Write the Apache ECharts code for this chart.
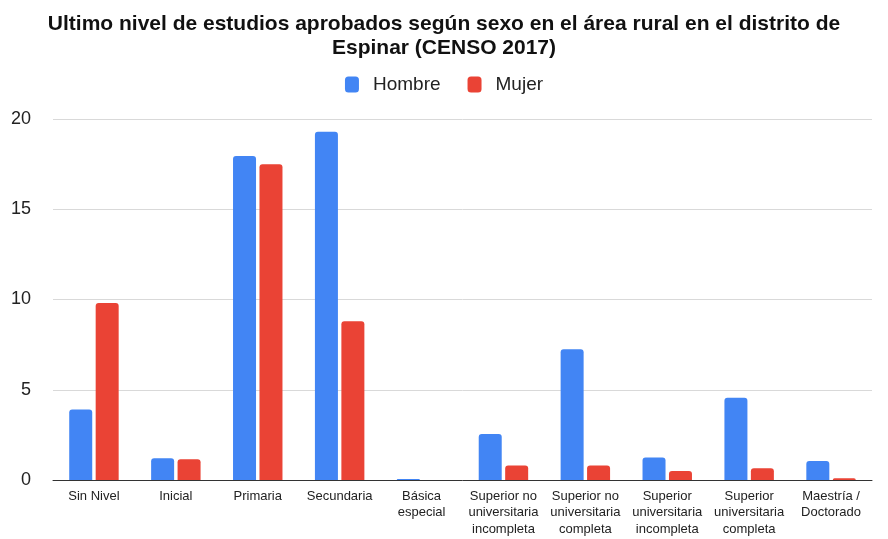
<!DOCTYPE html>
<html><head><meta charset="utf-8">
<script src="https://cdn.jsdelivr.net/npm/echarts@6/dist/echarts.min.js"></script>
<style>html,body{margin:0;padding:0;background:#fff}#c{width:888px;height:539px}</style>
</head><body><div id="c"></div>
<script>
const categories = ["Sin Nivel","Inicial","Primaria","Secundaria","Básica\nespecial","Superior no\nuniversitaria\nincompleta","Superior no\nuniversitaria\ncompleta","Superior\nuniversitaria\nincompleta","Superior\nuniversitaria\ncompleta","Maestría /\nDoctorado"];
const hombre = [3.9, 1.2, 17.95, 19.3, 0.05, 2.55, 7.25, 1.25, 4.55, 1.05];
const mujer  = [9.8, 1.15, 17.5, 8.8, 0, 0.8, 0.8, 0.5, 0.65, 0.1];
const yTicks = [0, 5, 10, 15, 20];

const chart = echarts.init(document.getElementById('c'));
chart.setOption({
  animation: false,
  textStyle: {fontFamily: 'Liberation Sans, Arial, sans-serif'},
  title: {
    text: 'Ultimo nivel de estudios aprobados según sexo en el área rural en el distrito de\nEspinar (CENSO 2017)',
    left: 'center', top: 7,
    textStyle: {fontSize: 21, fontWeight: 'bold', color: '#111', lineHeight: 24, fontFamily: 'Liberation Sans, Arial, sans-serif'}
  },
  legend: {
    top: 70, left: 'center', itemWidth: 14, itemHeight: 16, itemGap: 27,
    icon: 'roundRect',
    textStyle: {fontSize: 19, color: '#222', padding: [0,0,0,9]},
    data: ['Hombre','Mujer']
  },
  grid: {left: 53, right: 16, top: 119, bottom: 59},
  xAxis: {
    type: 'category', data: categories,
    axisTick: {show: false},
    axisLine: {lineStyle: {color: '#333', width: 1}},
    axisLabel: {fontSize: 13, color: '#222', lineHeight: 16.5, interval: 0, margin: 8}
  },
  yAxis: {
    type: 'value', min: yTicks[0], max: yTicks[yTicks.length-1], interval: 5,
    axisLabel: {fontSize: 18, color: '#222', margin: 22},
    splitLine: {lineStyle: {color: '#d9d9d9'}},
    axisLine: {show: false}, axisTick: {show: false}
  },
  series: [
    {name: 'Hombre', type: 'bar', data: hombre, barWidth: 23, barGap: '15%', itemStyle: {color: '#4285F4', borderRadius: [3,3,0,0]}},
    {name: 'Mujer', type: 'bar', data: mujer, barWidth: 23, itemStyle: {color: '#EA4335', borderRadius: [3,3,0,0]}}
  ]
});
</script></body></html>
